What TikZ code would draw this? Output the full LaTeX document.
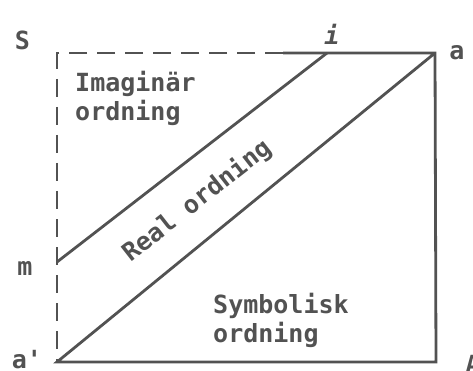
\documentclass[tikz,border=0pt]{standalone}
\usepackage{fontspec}
\setmonofont{DejaVu Sans Mono}
\usetikzlibrary{calc}
\definecolor{ink}{gray}{0.32}
\tikzset{
  lbl/.style={font=\ttfamily\bfseries\fontsize{25}{29}\selectfont, text=ink, inner sep=0},
  side/.style={ink, line width=2.8pt},
  dashside/.style={side, dash pattern=on 18pt off 10pt},
}

\begin{document}
\begin{tikzpicture}[x=1pt,y=-1pt]
\useasboundingbox (0,0) rectangle (473,371);
\coordinate (S) at (57,53);
\coordinate (a) at (435,53);
\coordinate (ap) at (57,362);
\coordinate (A) at (436,362);
\coordinate (m) at (57,262);
\coordinate (i) at (327,53);
\coordinate (s) at (283,53);
\draw[dashside] (s) -- (S) -- (ap);
\draw[side] (s) -- (a) -- (A) -- (ap) -- (a);
\draw[side] (m) -- (i);
\node[lbl, anchor=base] (lS) at (22.5,50) {S};
\node[lbl, anchor=base] (la) at (457,60) {a};
\node[lbl, anchor=base] (li) at (332,45) {\textit{i}};
\node[lbl, anchor=base] (lm) at (25,275) {m};
\node[lbl, anchor=base] (lap) at (27,368) {a'};
\node[lbl, anchor=base] (lA) at (473,373) {A};
\node[lbl, anchor=north west, align=left] (imag) at (75,71) {Imaginär\\ordning};
\node[lbl, anchor=north west, align=left] (symb) at (213,293) {Symbolisk\\ordning};
\node[lbl, rotate=38] (real) at (197,201) {Real ordning};
\end{tikzpicture}
\end{document}
